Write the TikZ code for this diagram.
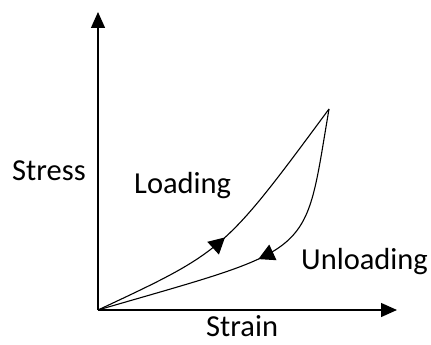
\documentclass[tikz,border=0pt]{standalone}
\usepackage{fontspec}
\setmainfont{Carlito}
\usetikzlibrary{arrows.meta,decorations.markings}
\tikzset{
  axis/.style={line width=1.3pt,-{Triangle[length=16pt,width=14pt]}},
  curve/.style={line width=1.1pt},
  lbl/.style={inner sep=0pt,anchor=base west,font=\fontsize{30.5}{34}\selectfont},
  midarrow/.style={postaction={decorate},decoration={markings,
     mark=at position #1 with {\arrow{Triangle[length=16pt,width=17pt]}}}}
}
\begin{document}
\begin{tikzpicture}[x=1pt,y=-1pt]
\useasboundingbox (0,0) rectangle (431,345);
\coordinate (O) at (98,310);
\coordinate (P) at (329,109);
\coordinate (Y) at (98,12);
\coordinate (X) at (397,310);
\draw[axis] (O) -- (Y);
\draw[axis] (O) -- (X);
\draw[curve,midarrow=0.47] (O) .. controls (224,251) .. (P);
\draw[curve,midarrow=0.51] (P) .. controls (303.5,259) and (318,246) .. (O);
\node[lbl] (stress) at (12,180) {Stress};
\node[lbl] (loading) at (134,193) {Loading};
\node[lbl] (unloading) at (301,269) {Unloading};
\node[lbl] (strain) at (206,336) {Strain};
\end{tikzpicture}
\end{document}
